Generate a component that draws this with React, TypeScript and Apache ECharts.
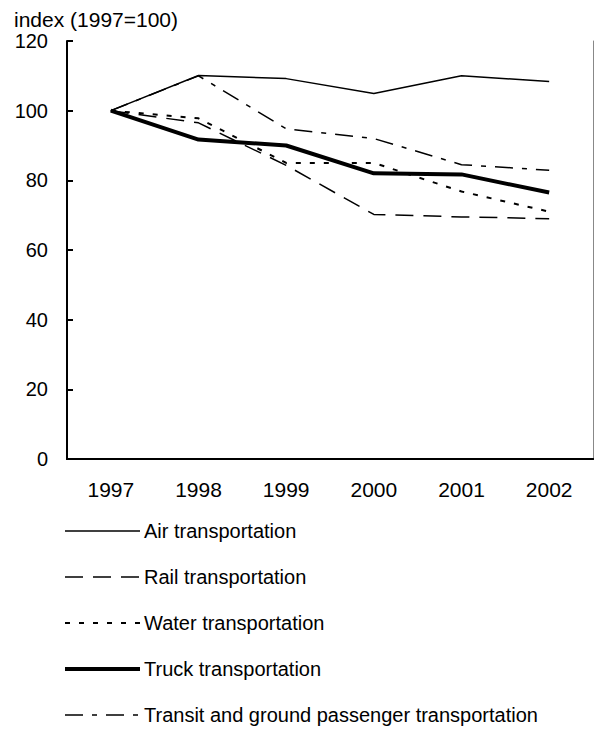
import React, { useEffect, useRef } from "react";
import * as echarts from "echarts";

const years = ["1997", "1998", "1999", "2000", "2001", "2002"];
const air = [100, 110.1, 109.2, 104.9, 110.0, 108.4];
const rail = [100, 96.5, 84.3, 70.2, 69.5, 69.0];
const water = [100, 97.8, 85.0, 85.0, 76.8, 71.0];
const truck = [100, 91.7, 90.0, 82.0, 81.7, 76.5];
const transit = [100, 110.0, 94.8, 92.0, 84.5, 82.9];
const yTicks = [0, 20, 40, 60, 80, 100, 120];

const FONT = "Liberation Sans, Arial, sans-serif";

export default function App() {
  const ref = useRef<HTMLDivElement>(null);
  useEffect(() => {
    document.body.style.margin = "0";
    const chart = echarts.init(ref.current!, null, { renderer: "svg" });
    const mk = (name: string, data: number[], width: number, type: any) => ({
      name,
      type: "line",
      data,
      symbol: "none",
      showSymbol: false,
      lineStyle: { color: "#000", width, type },
      itemStyle: { color: "#000" },
      z: 3,
    });
    chart.setOption({
      animation: false,
      backgroundColor: "#fff",
      textStyle: { fontFamily: FONT },
      title: {
        text: "index (1997=100)",
        left: 14,
        top: 9,
        padding: 0,
        textStyle: { fontSize: 21, fontWeight: "normal", color: "#000", fontFamily: FONT },
      },
      grid: { left: 67, right: 2, top: 41, bottom: 270 },
      xAxis: [
        {
          type: "category",
          data: years,
          boundaryGap: true,
          axisLine: { lineStyle: { color: "#000", width: 2 } },
          axisTick: { inside: true, length: 6, lineStyle: { color: "#000", width: 2 } },
          axisLabel: { color: "#000", fontSize: 21, margin: 20, fontFamily: FONT },
          splitLine: { show: false },
        },
        {
          type: "category",
          data: years,
          position: "top",
          axisLine: { lineStyle: { color: "#000", width: 2 } },
          axisTick: { show: false },
          axisLabel: { show: false },
        },
      ],
      yAxis: [
        {
          type: "value",
          min: 0,
          max: 120,
          interval: 20,
          axisLine: { show: true, lineStyle: { color: "#000", width: 2 } },
          axisTick: { show: true, inside: true, length: 6, lineStyle: { color: "#000", width: 2 } },
          axisLabel: {
            color: "#000",
            fontSize: 20,
            margin: 19,
            fontFamily: FONT,
            formatter: (v: number) => (yTicks.includes(v) ? String(v) : ""),
          },
          splitLine: { show: false },
        },
        {
          type: "value",
          min: 0,
          max: 120,
          interval: 20,
          position: "right",
          axisLine: { show: true, lineStyle: { color: "#888", width: 1 } },
          axisTick: { show: false },
          axisLabel: { show: false },
          splitLine: { show: false },
        },
      ],
      legend: {
        orient: "vertical",
        left: 63,
        top: 521,
        height: 230,
        padding: 0,
        itemWidth: 75,
        itemHeight: 16,
        itemGap: 26,
        itemStyle: { color: "transparent", borderColor: "transparent", borderWidth: 0 },
        lineStyle: { width: "inherit" },
        textStyle: { fontSize: 20, color: "#000", fontFamily: FONT, padding: [0, 0, 0, -1] },
        data: [
          "Air transportation",
          "Rail transportation",
          "Water transportation",
          "Truck transportation",
          "Transit and ground passenger transportation",
        ],
      },
      series: [
        mk("Air transportation", air, 1.5, "solid"),
        mk("Rail transportation", rail, 1.5, [18, 10]),
        mk("Water transportation", water, 2, [5, 9]),
        mk("Truck transportation", truck, 4, "solid"),
        mk("Transit and ground passenger transportation", transit, 1.5, [18, 9, 5, 9]),
      ],
    });
    return () => chart.dispose();
  }, []);
  return <div ref={ref} style={{ width: 595, height: 729 }} />;
}
